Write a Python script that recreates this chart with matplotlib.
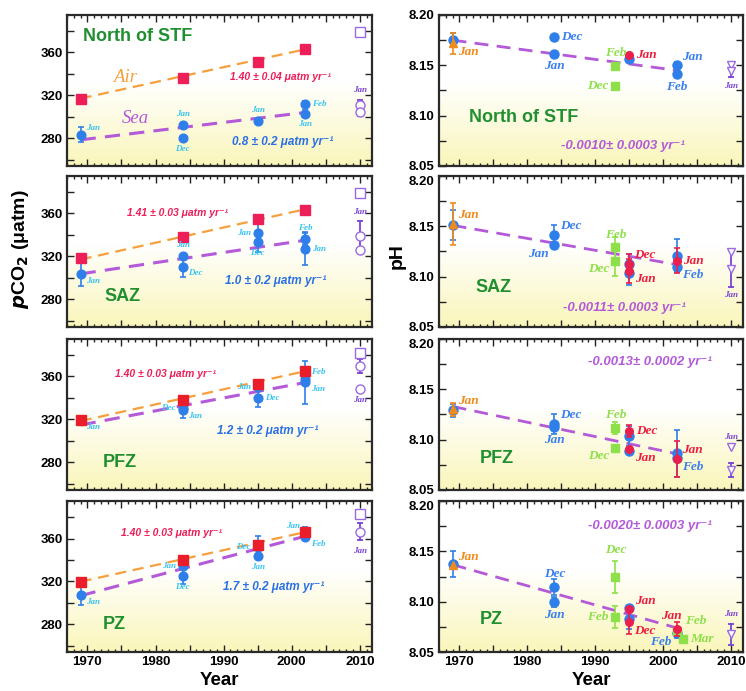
import numpy as np
import matplotlib.pyplot as plt
from matplotlib.colors import LinearSegmentedColormap
from matplotlib.ticker import MultipleLocator, FuncFormatter
from matplotlib.transforms import blended_transform_factory

zones = ['North of STF', 'SAZ', 'PFZ', 'PZ']
survey_years = [1969, 1984, 1995, 2002]
fit_years = [1969, 2002]

# ---- pCO2 (uatm), left column ----
air_pco2 = [[317, 336.5, 351, 363],
            [318, 337.7, 354.7, 363.7],
            [319, 338, 353, 365],
            [319.4, 339.8, 354, 366]]
air_fit = [[317, 363], [317, 364], [318.4, 365], [319.7, 366]]
sea_fit = [[278.4, 304], [303.6, 335], [314.7, 354.4], [306.6, 362.2]]
air_rates = ['1.40 ± 0.04', '1.41 ± 0.03', '1.40 ± 0.03', '1.40 ± 0.03']
sea_rates = ['0.8 ± 0.2', '1.0 ± 0.2', '1.2 ± 0.2', '1.7 ± 0.2']

# (year, pCO2, error, month)
sea_stf = [(1969, 283, 7, 'Jan'), (1984, 292, 0, 'Jan'), (1984, 280.5, 0, 'Dec'),
           (1995, 296, 0, 'Jan'), (2002, 303, 3, 'Jan'), (2002, 312, 3, 'Feb')]
sea_saz = [(1969, 303.6, 11, 'Jan'), (1984, 320, 0, 'Jan'), (1984, 310.4, 10, 'Dec'),
           (1995, 342, 8, 'Jan'), (1995, 333, 9, 'Dec'), (2002, 336.4, 6, 'Feb'),
           (2002, 327, 15, 'Jan')]
sea_pfz = [(1969, 319, 4, 'Jan'), (1984, 331, 0, 'Dec'), (1984, 329, 8, 'Jan'),
           (1995, 350, 0, 'Jan'), (1995, 339.7, 8, 'Dec'), (2002, 357.5, 0, 'Feb'),
           (2002, 354.4, 20, 'Jan')]
sea_pz = [(1969, 307.5, 10, 'Jan'), (1984, 334, 0, 'Jan'), (1984, 324.7, 7, 'Dec'),
          (1995, 352, 10, 'Dec'), (1995, 344, 0, 'Jan'), (2002, 365, 6, 'Jan'),
          (2002, 361, 0, 'Feb')]
sea_points = [sea_stf, sea_saz, sea_pfz, sea_pz]

# 2010 observations (purple, open symbols)
sq_2010 = [379, 379.5, 381.8, 383]
circ_2010 = [[310.7, 304.5], [339, 326], [369.5, 348], [366]]
bar_2010 = [(301, 316), (326, 352.6), (363, 376), (358.4, 374.6)]

# ---- pH, right column ----
ph_fit = [[8.175, 8.145], [8.151, 8.112], [8.133, 8.086], [8.1368, 8.074]]
ph_rates = ['-0.0010± 0.0003', '-0.0011± 0.0003', '-0.0013± 0.0002', '-0.0020± 0.0003']

# (year, pH, error, month)
blue_ph = [
    [(1969, 8.175, 0.007, ''), (1984, 8.178, 0, 'Dec'), (1984, 8.1617, 0, 'Jan'),
     (1995, 8.1567, 0, ''), (2002, 8.150, 0.003, 'Jan'), (2002, 8.141, 0.003, 'Feb')],
    [(1969, 8.1513, 0.015, ''), (1984, 8.1418, 0.01, 'Dec'), (1984, 8.131, 0, 'Jan'),
     (1995, 8.113, 0.01, ''), (1995, 8.104, 0.012, ''), (2002, 8.121, 0.016, ''),
     (2002, 8.110, 0, 'Feb')],
    [(1969, 8.129, 0.006, ''), (1984, 8.1154, 0.01, 'Dec'), (1984, 8.1125, 0, 'Jan'),
     (1995, 8.1036, 0.01, ''), (1995, 8.089, 0, ''), (2002, 8.0864, 0.023, ''),
     (2002, 8.082, 0, 'Feb')],
    [(1969, 8.1375, 0.013, ''), (1984, 8.115, 0.008, 'Dec'), (1984, 8.100, 0.005, 'Jan'),
     (1995, 8.0934, 0, ''), (1995, 8.083, 0.01, ''), (2002, 8.069, 0.005, 'Feb')],
]
orange_ph = [[(1969, 8.1717, 0.01, 'Jan')], [(1969, 8.1524, 0.021, 'Jan')],
             [(1969, 8.130, 0.006, 'Jan')], [(1969, 8.136, 0, 'Jan')]]
green_ph = [
    [(1993, 8.1493, 0, 'Feb'), (1993, 8.129, 0, 'Dec')],
    [(1993, 8.129, 0.01, 'Feb'), (1993, 8.116, 0.015, 'Dec')],
    [(1993, 8.112, 0.006, 'Feb'), (1993, 8.092, 0, 'Dec')],
    [(1993, 8.1247, 0.016, 'Dec'), (1993, 8.0847, 0.011, 'Feb'),
     (2002, 8.0705, 0, 'Feb'), (2003, 8.0628, 0, 'Mar')],
]
red_ph = [
    [(1995, 8.1607, 0, 'Jan')],
    [(1995, 8.113, 0.01, 'Dec'), (1995, 8.106, 0.012, 'Jan'), (2002, 8.116, 0.012, 'Jan')],
    [(1995, 8.109, 0.006, 'Dec'), (1995, 8.0904, 0, 'Jan'), (2002, 8.081, 0.018, 'Jan')],
    [(1995, 8.0924, 0, 'Jan'), (1995, 8.0795, 0.012, 'Dec'), (2002, 8.0726, 0.007, 'Jan')],
]
tri_2010 = [[8.150, 8.144], [8.124, 8.108], [8.093, 8.070], [8.068]]
phbar_2010 = [(8.138, 8.153), (8.090, 8.127), (8.063, 8.077), (8.057, 8.078)]

# label placement codes (same order as the point lists)
sea_pos = [['ur', 'a', 'b', 'a', 'b', 'r'],
           ['lr', 'a', 'lr', 'l', 'b', 'a', 'r'],
           ['lr', 'l', 'lr', 'l', 'r', 'ur', 'lr'],
           ['lr', 'l', 'b', 'l', 'b', 'ul', 'lr']]
blue_pos = [['r', 'r', 'b', 'r', 'ur', 'b'],
            ['r', 'ur', 'll', 'r', 'r', 'r', 'lr'],
            ['r', 'ur', 'b', 'r', 'r', 'r', 'lr'],
            ['r', 'a', 'b', 'r', 'r', 'll']]
green_pos = [['a', 'l'], ['a', 'll'], ['a', 'll'], ['a', 'l', 'ur', 'r']]
red_pos = [['r'], ['ur', 'lr', 'r'], ['r', 'lr', 'ur'], ['ur', 'lr', 'al']]
pos_2010_ph = ['b', 'b', 'a', 'a']

OFFS = {'r': (5, 0, 'left', 'center'), 'l': (-5, 0, 'right', 'center'),
        'a': (0, 5, 'center', 'bottom'), 'b': (0, -5, 'center', 'top'),
        'al': (-4, 5, 'center', 'bottom'),
        'ur': (4, 2, 'left', 'bottom'), 'lr': (4, -2, 'left', 'top'),
        'ul': (-4, 2, 'right', 'bottom'), 'll': (-4, -2, 'right', 'top')}

C_RED = '#ec1f58'
C_RED2 = '#ea1e2a'
C_BLUE = '#2f7fea'
C_ORANGE = '#f5a03c'
C_PURPLE = '#b45ad8'
C_VIOLET = '#9b6ae2'
C_GREEN = '#8ee04a'
C_ZONE = '#1f8f2f'
C_CYAN = '#38c4f2'

SERIF = ['Liberation Serif', 'DejaVu Serif']
SANS = ['Liberation Sans', 'DejaVu Sans']

bg = LinearSegmentedColormap.from_list('bg', [(0, '#faf6ba'), (0.55, '#ffffff'), (1, '#ffffff')])


def month(ax, x, y, txt, where, color, size, dist=1.0):
    if not txt:
        return
    dx, dy, ha, va = OFFS[where]
    ax.annotate(txt, (x, y), xytext=(dx * dist, dy * dist), textcoords='offset points',
                ha=ha, va=va, color=color, fontsize=size, family=SERIF,
                style='italic', weight='bold', zorder=6)


def frame(ax, bottom_row):
    grad = np.linspace(0, 1, 256).reshape(-1, 1)
    ax.imshow(grad, cmap=bg, extent=[0, 1, 0, 1], transform=ax.transAxes,
              origin='lower', aspect='auto', zorder=0)
    ax.set_xlim(1967, 2011.8)
    ax.xaxis.set_major_locator(MultipleLocator(5))
    ax.xaxis.set_minor_locator(MultipleLocator(1))
    ax.xaxis.set_major_formatter(FuncFormatter(
        lambda v, p: f'{v:.0f}' if bottom_row and round(v) % 10 == 0 else ''))
    ax.tick_params(which='both', direction='in', top=True, right=True,
                   width=1.0, color='#222222', labelsize=9.5, pad=3)
    ax.tick_params(which='major', length=5)
    ax.tick_params(which='minor', length=2.5)
    for lab in ax.get_xticklabels() + ax.get_yticklabels():
        lab.set_fontweight('bold')
        lab.set_family(SANS)
    for sp in ax.spines.values():
        sp.set_linewidth(1.6)
        sp.set_color('#2a2a2a')


def err_pts(ax, pts, marker, color, size, z):
    for x, y, e, m in pts:
        ax.errorbar(x, y, yerr=e if e else None, fmt=marker, color=color, ms=size,
                    mec=color, elinewidth=1.2, capsize=2, capthick=1.2, zorder=z)


fig = plt.figure(figsize=(7.46, 6.91), dpi=100)
row_bottoms = [0.7598, 0.5268, 0.2909, 0.0564]
row_h = 0.2185

for i in range(4):
    bottom_row = i == 3

    # ---------------- pCO2 ----------------
    ax = fig.add_axes([0.0898, row_bottoms[i], 0.409, row_h])
    frame(ax, bottom_row)
    ax.set_ylim(254, 395)
    ax.yaxis.set_major_locator(MultipleLocator(20))
    ax.yaxis.set_major_formatter(FuncFormatter(
        lambda v, p: f'{v:.0f}' if round(v) % 40 == 0 else ''))
    for lab in ax.get_yticklabels():
        lab.set_fontweight('bold')

    ax.plot(fit_years, air_fit[i], ls=(0, (5, 3)), color=C_ORANGE, lw=1.6, zorder=2)
    ax.plot(fit_years, sea_fit[i], ls=(0, (5, 3)), color=C_PURPLE, lw=2.2, zorder=2)

    pts = sea_points[i]
    err_pts(ax, pts, 'o', C_BLUE, 6.3, 3)
    for (x, y, e, m), p in zip(pts, sea_pos[i]):
        month(ax, x, y, m, p, C_CYAN, 6.5)
    sq_col = C_RED if i < 2 else C_RED2
    ax.plot(survey_years, air_pco2[i], 's', color=sq_col, ms=6.8, zorder=4)

    # 2010
    lo, hi = bar_2010[i]
    ax.plot([2010, 2010], [lo, hi], color='#7a44d4', lw=1.3, zorder=3)
    ax.plot([2010, 2010], [lo, hi], '_', color='#7a44d4', ms=4, mew=1.3, zorder=3)
    ax.plot([2010], [sq_2010[i]], 's', mfc='white', mec=C_VIOLET, ms=6.5, mew=1.0, zorder=4)
    ax.plot([2010] * len(circ_2010[i]), circ_2010[i], 'o', mfc='white', mec=C_VIOLET,
            ms=6.5, mew=1.0, zorder=4)
    if i < 2:
        ax.annotate('Jan', (2010, hi), xytext=(0, 4), textcoords='offset points',
                    ha='center', va='bottom', color='#7a44d4', fontsize=6.5,
                    family=SERIF, style='italic', weight='bold')
    else:
        ax.annotate('Jan', (2010, min(circ_2010[i] + [lo])), xytext=(0, -5),
                    textcoords='offset points', ha='center', va='top', color='#7a44d4',
                    fontsize=6.5, family=SERIF, style='italic', weight='bold')

    zone_pos = [(1969.3, 374.6), (1972.5, 282), (1972.2, 280), (1972.2, 280)][i]
    ax.text(*zone_pos, zones[i], color=C_ZONE, fontsize=13, family=SANS, weight='bold',
            ha='left', va='center', zorder=6)
    air_pos = [(1990.9, 336.7), (1975.8, 360), (1974, 362.5), (1975, 365)][i]
    sea_pos_t = [(1991.2, 276), (1990.2, 297.4), (1989, 309), (1989.9, 315)][i]
    ax.text(*air_pos, air_rates[i] + ' μatm yr⁻¹', color=C_RED, fontsize=7.5,
            family=SANS, style='italic', weight='bold', ha='left', va='center', zorder=6)
    ax.text(*sea_pos_t, sea_rates[i] + ' μatm yr⁻¹', color='#2a6fe6', fontsize=8.5,
            family=SANS, style='italic', weight='bold', ha='left', va='center', zorder=6)
    if i == 0:
        ax.text(1973.8, 336.7, 'Air', color=C_ORANGE, fontsize=13.5, family=SERIF,
                style='italic', ha='left', va='center', zorder=6)
        ax.text(1975.0, 298.6, 'Sea', color=C_PURPLE, fontsize=13.5, family=SERIF,
                style='italic', ha='left', va='center', zorder=6)
    if bottom_row:
        ax.set_xlabel('Year', fontsize=13.5, weight='bold', family=SANS, labelpad=3)

    # ---------------- pH ----------------
    bx = fig.add_axes([0.5885, row_bottoms[i], 0.4075, row_h])
    frame(bx, bottom_row)
    bx.set_ylim(8.05, 8.20)
    bx.yaxis.set_major_locator(MultipleLocator(0.025))
    top_lab = i == 0

    def ph_fmt(v, p, top_lab=top_lab):
        if abs(v / 0.05 - round(v / 0.05)) > 1e-6:
            return ''
        if v > 8.19 and not top_lab:
            return ''
        return f'{v:.2f}'
    bx.yaxis.set_major_formatter(FuncFormatter(ph_fmt))
    for lab in bx.get_yticklabels():
        lab.set_fontweight('bold')
    if not top_lab:
        tr = blended_transform_factory(bx.transAxes, bx.transData)
        bx.text(-0.014, 8.20, '8.20', transform=tr, ha='right', va='top',
                fontsize=9.5, weight='bold', family=SANS)

    bx.plot(fit_years, ph_fit[i], ls=(0, (5, 3)), color=C_PURPLE, lw=2.0, zorder=2)

    err_pts(bx, blue_ph[i], 'o', C_BLUE, 6.5, 3)
    err_pts(bx, orange_ph[i], '^', '#ee8a1e', 5.5, 4)
    err_pts(bx, green_ph[i], 's', C_GREEN, 6, 3)
    err_pts(bx, red_ph[i], 'o', '#ea1f4e', 5.5, 4)

    for (x, y, e, m), p in zip(blue_ph[i], blue_pos[i]):
        month(bx, x, y, m, p, '#3a7ff0', 9.5)
    for x, y, e, m in orange_ph[i]:
        month(bx, x, y, m, 'ur' if i else 'lr', '#f08a1c', 9.5)
    for (x, y, e, m), p in zip(green_ph[i], green_pos[i]):
        dist = 3.0 if (i == 3 and m == 'Dec') else 1.0
        if i == 3 and m == 'Feb' and p == 'ur':
            dist = 1.6
        month(bx, x, y, m, p, C_GREEN, 9.5, dist)
    for (x, y, e, m), p in zip(red_ph[i], red_pos[i]):
        month(bx, x, y, m, p, '#ea1f40', 9.5)

    lo, hi = phbar_2010[i]
    bx.plot([2010, 2010], [lo, hi], color='#7a44d4', lw=1.3, zorder=3)
    bx.plot([2010, 2010], [lo, hi], '_', color='#7a44d4', ms=4, mew=1.3, zorder=3)
    bx.plot([2010] * len(tri_2010[i]), tri_2010[i], 'v', mfc='white', mec=C_VIOLET,
            ms=6, mew=1.0, zorder=4)
    if pos_2010_ph[i] == 'b':
        bx.annotate('Jan', (2010, lo), xytext=(0, -3), textcoords='offset points',
                    ha='center', va='top', color='#7a44d4', fontsize=6.5,
                    family=SERIF, style='italic', weight='bold')
    else:
        bx.annotate('Jan', (2010, max(tri_2010[i] + [hi])), xytext=(0, 4),
                    textcoords='offset points', ha='center', va='bottom', color='#7a44d4',
                    fontsize=6.5, family=SERIF, style='italic', weight='bold')

    zone_pos = [(1971.4, 8.098), (1972.3, 8.089), (1973, 8.081), (1973, 8.082)][i]
    bx.text(*zone_pos, zones[i], color=C_ZONE, fontsize=13, family=SANS, weight='bold',
            ha='left', va='center', zorder=6)
    rate_pos = [(1985, 8.07), (1985.2, 8.069), (1988.9, 8.177), (1988.9, 8.175)][i]
    bx.text(*rate_pos, ph_rates[i] + ' yr⁻¹', color=C_PURPLE, fontsize=9.5,
            family=SANS, style='italic', weight='bold', ha='left', va='center', zorder=6)
    if bottom_row:
        bx.set_xlabel('Year', fontsize=13.5, weight='bold', family=SANS, labelpad=3)

fig.text(0.027, 0.64, r'$\mathbfit{p}$CO$_\mathbf{2}$ (μatm)', rotation=90,
         ha='center', va='center', fontsize=14, weight='bold', family=SANS)
fig.text(0.532, 0.63, 'pH', rotation=90, ha='center', va='center',
         fontsize=14, weight='bold', family=SANS)

fig.savefig('out.png', dpi=100)
